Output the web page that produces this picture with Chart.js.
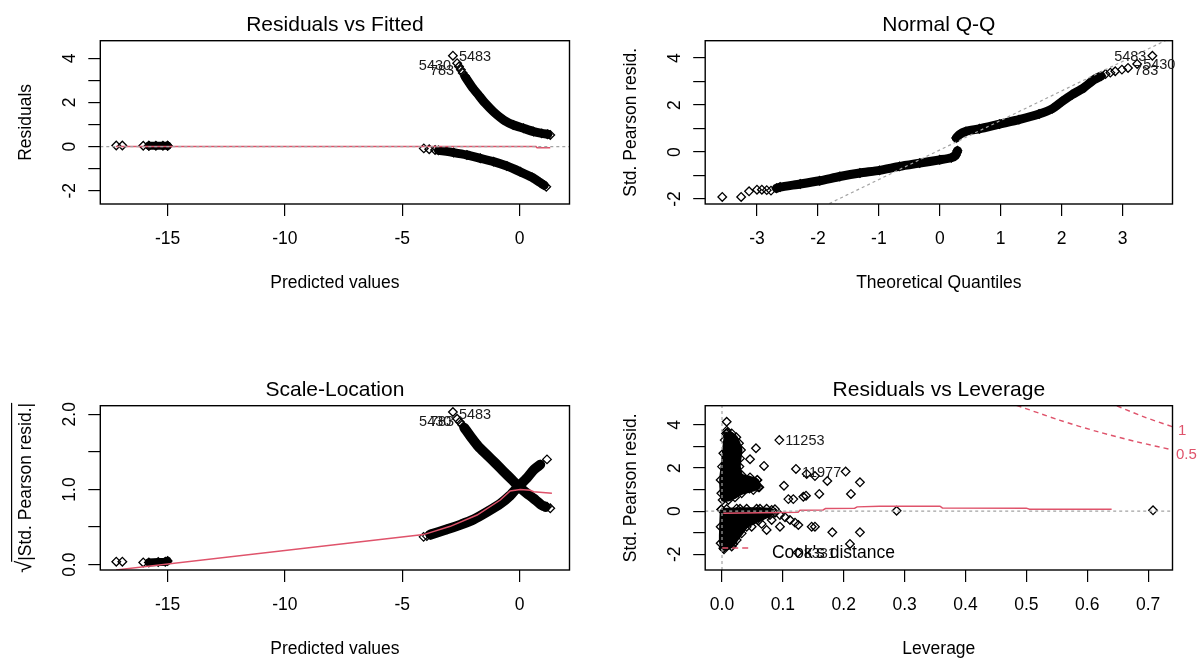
<!DOCTYPE html>
<html>
<head>
<meta charset="utf-8">
<script src="https://cdn.jsdelivr.net/npm/chart.js@4.4.1/dist/chart.umd.min.js"></script>
<style>
  html, body { margin: 0; padding: 0; background: #fff; width: 1203px; height: 660px; overflow: hidden; }
  canvas { position: absolute; }
</style>
</head>
<body>
<canvas id="c1" width="601" height="330" style="left:0;top:0"></canvas>
<canvas id="c2" width="602" height="330" style="left:601px;top:0"></canvas>
<canvas id="c3" width="601" height="330" style="left:0;top:330px"></canvas>
<canvas id="c4" width="602" height="330" style="left:601px;top:330px"></canvas>
<script>
// ---- data: [x, y] pairs ----

// Residuals vs Fitted
const rvfLeftPts = [[-17.19, 0.05], [-16.93, 0.05], [-16.04, 0.04], [-15.8, 0.04], [-15.0, 0.04]];
const rvfLeftBand = [[-15.8, 0.04], [-15.5, 0.04], [-15.2, 0.04], [-15.0, 0.04]];
const rvfUpperPts = [[-2.84, 4.12], [-2.66, 3.78], [-2.58, 3.63], [-2.5, 3.48], [-2.42, 3.34], [-2.33, 3.2], [1.31, 0.53]];
const rvfUpperBand = [[-2.3, 3.13], [-2.03, 2.71], [-1.75, 2.34], [-1.46, 1.96], [-1.11, 1.58], [-0.68, 1.21],
  [-0.26, 0.98], [0.17, 0.83], [0.6, 0.68], [0.95, 0.6], [1.2, 0.56]];
const rvfLowerPts = [[-4.08, -0.08], [-3.85, -0.12], [-3.6, -0.15], [1.14, -1.82]];
const rvfLowerBand = [[-3.45, -0.17], [-2.81, -0.27], [-2.24, -0.38], [-1.67, -0.53], [-1.11, -0.68],
  [-0.54, -0.88], [0.03, -1.14], [0.53, -1.39], [0.88, -1.63], [1.05, -1.75]];
const rvfSmooth = [[-17.2, 0], [0.7, 0], [0.75, -0.05], [1.31, -0.05]];
const rvfZero = [[-17.87, 0], [2.13, 0]];
const rvfLabels = [['5483', -2.84, 4.1, 'r'], ['5430', -2.66, 3.7, 'l'], ['783', -2.53, 3.47, 'l']];

// Normal Q-Q
const qqLowPts = [[-3.57, -1.91], [-3.26, -1.91], [-3.13, -1.67], [-3.0, -1.6], [-2.92, -1.6], [-2.84, -1.62], [-2.77, -1.64]];
const qqLowBand = [[-2.68, -1.54], [-2.62, -1.49], [-2.29, -1.36], [-1.97, -1.22], [-1.64, -1.04], [-1.31, -0.89],
  [-0.99, -0.78], [-0.66, -0.61], [-0.33, -0.47], [0.0, -0.33], [0.19, -0.24], [0.26, -0.14], [0.28, -0.02], [0.29, 0.06]];
const qqUpBand = [[0.27, 0.6], [0.32, 0.74], [0.43, 0.88], [0.65, 0.99], [0.98, 1.19], [1.3, 1.38], [1.63, 1.62],
  [1.85, 1.85], [2.01, 2.16], [2.17, 2.44], [2.36, 2.73], [2.53, 3.08], [2.65, 3.24]];
const qqUpPts = [[2.72, 3.32], [2.8, 3.38], [2.88, 3.44], [2.99, 3.51], [3.09, 3.58], [3.24, 3.75], [3.49, 4.1]];
const qqLine = [[-3.85, -4.75], [3.82, 4.89]];
const qqLabels = [['5483', 3.49, 4.1, 'l'], ['5430', 3.24, 3.74, 'r'], ['783', 3.09, 3.5, 'r']];

// Scale-Location
const slLeftPts = [[-17.19, 0.04], [-16.93, 0.04], [-16.04, 0.03]];
const slLeftBand = [[-15.8, 0.03], [-15.4, 0.035], [-15.1, 0.04], [-15.0, 0.05]];
const slDownPts = [[-2.84, 2.03], [-2.66, 1.94], [-2.55, 1.9], [-2.45, 1.86], [1.17, 0.77], [1.31, 0.75]];
const slDownBand = [[-2.35, 1.82], [-2.03, 1.68], [-1.75, 1.57], [-1.39, 1.46], [-1.03, 1.35], [-0.68, 1.24],
  [-0.32, 1.13], [-0.04, 1.04], [0.31, 0.95], [0.6, 0.88], [0.95, 0.79], [1.1, 0.77]];
const slUpPts = [[-4.09, 0.37], [-3.95, 0.38], [1.17, 1.4]];
const slUpBand = [[-3.8, 0.4], [-3.09, 0.47], [-2.53, 0.53], [-1.96, 0.6], [-1.39, 0.7], [-0.82, 0.81],
  [-0.4, 0.92], [-0.11, 1.02], [0.31, 1.15], [0.6, 1.26], [0.88, 1.33]];
const slSmooth = [[-17.2, -0.07], [-4.09, 0.4], [-2.95, 0.51], [-1.81, 0.66], [-0.82, 0.86], [-0.4, 0.98],
  [0.03, 1.0], [0.46, 0.99], [0.6, 0.97], [1.38, 0.95]];
const slLabels = [['5483', -2.84, 2.01, 'r'], ['5430', -2.65, 1.915, 'l'], ['783', -2.53, 1.915, 'l']];

// Residuals vs Leverage
const lvUpperBlob = [[0.0088, 3.64], [0.0159, 3.61], [0.0235, 3.43], [0.0279, 3.15], [0.0312, 2.84], [0.0296, 2.45],
  [0.0285, 2.07], [0.0323, 1.68], [0.046, 1.57], [0.058, 1.45], [0.0613, 1.11], [0.0515, 0.98], [0.0323, 0.83],
  [0.0213, 0.64], [0.0104, 0.52], [0.0011, 0.52], [-0.0011, 0.83], [-0.0022, 1.45], [0.0, 2.07], [0.0022, 2.69],
  [0.0044, 3.3], [0.0066, 3.61], [0.0088, 3.64]];
const lvLowerBlob = [[-0.0011, 0.08], [0.0296, 0.11], [0.0624, 0.11], [0.0816, 0.06], [0.0788, -0.18], [0.0597, -0.44],
  [0.0405, -0.72], [0.0323, -1.03], [0.0241, -1.34], [0.0159, -1.64], [0.0033, -1.77], [-0.0022, -1.49],
  [-0.0022, -0.72], [-0.0011, 0.08]];
const lvPts = [[0.0077, 4.15], [0.0077, 3.74], [0.0941, 3.3], [0.0558, 2.92], [0.046, 2.41], [0.069, 2.1],
  [0.1215, 1.96], [0.1391, 1.73], [0.1527, 1.63], [0.173, 1.4], [0.2031, 1.84], [0.2266, 1.34], [0.1018, 1.18],
  [0.2118, 0.8], [0.1598, 0.8], [0.109, 0.56], [0.1171, 0.56], [0.1336, 0.67], [0.138, 0.72], [0.058, 1.45],
  [0.0597, 1.11], [0.04, 1.2], [0.045, 1.05],
  [0.0077, 0.1], [0.0241, 0.12], [0.0405, 0.11], [0.0569, 0.11], [0.0733, 0.11], [0.087, 0.09], [0.087, -0.07],
  [0.0952, -0.18], [0.1035, -0.28], [0.1117, -0.41], [0.1199, -0.53], [0.1254, -0.64], [0.0733, -0.87],
  [0.0952, -0.72], [0.0816, -0.41], [0.0651, -0.59], [0.0487, -0.72], [0.1473, -0.72], [0.1527, -0.72],
  [0.1812, -0.98], [0.2266, -0.98], [0.2102, -1.52], [0.1243, -1.92], [0.0186, -1.52], [0.0022, -1.72],
  [0.2868, 0.02], [0.708, 0.04]];
const lvSmooth = [[0.002, -0.1], [0.125, -0.05], [0.128, 0.04], [0.166, 0.06], [0.17, 0.12], [0.218, 0.14],
  [0.222, 0.2], [0.259, 0.23], [0.358, 0.23], [0.362, 0.15], [0.5, 0.14], [0.505, 0.09], [0.64, 0.09]];
const lvH = [[-0.0276, 0], [0.74, 0]];
const lvV = [[0, -2.73], [0, 4.896]];
const cook05 = [[0.47, 5.05], [0.554, 4.23], [0.617, 3.69], [0.68, 3.23], [0.742, 2.83]];
const cook1 = [[0.635, 5.05], [0.692, 4.39], [0.742, 3.9]];
const lvLabels = [['11253', 0.0941, 3.3, 'r'], ['11977', 0.1215, 1.85, 'r'], ['8331', 0.1243, -1.93, 'r']];

// ticks and tick labels
const fitXTicks = [-15, -10, -5, 0];
const fitXText = ['-15', '-10', '-5', '0'];
const residYTicks = [-2, -1, 0, 1, 2, 3, 4];
const residYLab = [-2, 0, 2, 4];
const residYText = ['-2', '0', '2', '4'];
const qqXTicks = [-3, -2, -1, 0, 1, 2, 3];
const qqXText = ['-3', '-2', '-1', '0', '1', '2', '3'];
const slYTicks = [0, 0.5, 1, 1.5, 2];
const slYLab = [0, 1, 2];
const slYText = ['0.0', '1.0', '2.0'];
const lvXTicks = [0, 0.1, 0.2, 0.3, 0.4, 0.5, 0.6, 0.7];
const lvXText = ['0.0', '0.1', '0.2', '0.3', '0.4', '0.5', '0.6', '0.7'];

const RED = '#DF536B';
const GREY = '#a3a3a3';
const FONT = '"Liberation Sans", Arial, sans-serif';

function xy(arr) { return arr.map(p => ({ x: p[0], y: p[1] })); }

const diamond = {
  pointStyle: 'rectRot', pointRadius: 4.3, pointBorderWidth: 1.3,
  pointBorderColor: '#000', pointBackgroundColor: 'rgba(0,0,0,0)'
};
function marks(arr) {
  return Object.assign({ data: xy(arr), showLine: false, order: 5 }, diamond);
}
function band(arr, w) {
  return Object.assign({ data: xy(arr), showLine: true, borderColor: '#000', borderWidth: w,
    borderCapStyle: 'round', borderJoinStyle: 'round', tension: 0.2, order: 5 }, diamond);
}
function blob(arr) {
  return Object.assign({ data: xy(arr), showLine: true, fill: 'shape', backgroundColor: '#000',
    borderColor: '#000', borderWidth: 3, borderJoinStyle: 'round', tension: 0.25, order: 5 }, diamond);
}
function path(arr, color, w, dash, order, tension) {
  return { data: xy(arr), showLine: true, borderColor: color, borderWidth: w, borderDash: dash,
    pointRadius: 0, fill: false, tension: tension || 0, order: order, clip: 0 };
}

// draw text centred on (cx, cy), optionally rotated
function label(ctx, str, cx, cy, size, rot) {
  ctx.save();
  ctx.translate(cx, cy);
  if (rot) ctx.rotate(rot);
  ctx.font = size + 'px ' + FONT;
  ctx.textAlign = 'center';
  ctx.textBaseline = 'alphabetic';
  ctx.fillText(str, 0, 0.36 * size);
  ctx.restore();
}

// R-style frame, titles and tick labels drawn from the chart scales
function decor(cfg) {
  return {
    id: 'decor',
    afterDraw(chart) {
      const ctx = chart.ctx, a = chart.chartArea, xs = chart.scales.x, ys = chart.scales.y;
      ctx.save();
      ctx.strokeStyle = '#000';
      ctx.lineWidth = 1.4;
      ctx.strokeRect(a.left, a.top, a.right - a.left, a.bottom - a.top);
      ctx.fillStyle = '#000';
      label(ctx, cfg.title, (a.left + a.right) / 2, a.top - 17, 21, 0);
      cfg.xLab.forEach((v, i) => label(ctx, cfg.xText[i], xs.getPixelForValue(v), a.bottom + 34, 17.5, 0));
      cfg.yLab.forEach((v, i) => label(ctx, cfg.yText[i], a.left - 32, ys.getPixelForValue(v), 17.5, -Math.PI / 2));
      label(ctx, cfg.xTitle, (a.left + a.right) / 2, a.bottom + 78, 17.5, 0);
      if (cfg.yTitle) label(ctx, cfg.yTitle, a.left - 75.5, (a.top + a.bottom) / 2, 17.5, -Math.PI / 2);

      ctx.font = '14.5px ' + FONT;
      ctx.fillStyle = '#1a1a1a';
      ctx.textBaseline = 'alphabetic';
      cfg.labels.forEach(p => {
        const px = xs.getPixelForValue(p[1]), py = ys.getPixelForValue(p[2]);
        ctx.textAlign = p[3] === 'r' ? 'left' : 'right';
        ctx.fillText(p[0], p[3] === 'r' ? px + 6 : px - 6, py + 5.2);
      });
      if (cfg.extra) cfg.extra(ctx, a, xs, ys);
      ctx.restore();
    }
  };
}

function makePanel(cfg) {
  const canvas = document.getElementById(cfg.id);
  const W = canvas.width, H = canvas.height, box = cfg.box;
  const axisGrid = { display: true, drawOnChartArea: false, drawTicks: true, tickLength: 12, color: '#000', lineWidth: 1.2 };
  new Chart(canvas, {
    type: 'scatter',
    data: { datasets: cfg.datasets },
    options: {
      responsive: false,
      animation: false,
      events: [],
      layout: { padding: { left: 0, top: box.t, right: W - box.r, bottom: 0 } },
      plugins: { legend: { display: false }, tooltip: { enabled: false }, title: { display: false } },
      scales: {
        x: {
          type: 'linear', position: 'bottom', min: cfg.xRange[0], max: cfg.xRange[1], bounds: 'data',
          afterBuildTicks: s => { s.ticks = cfg.xTicks.map(v => ({ value: v })); },
          afterFit: s => { s.height = H - box.b; },
          ticks: { display: false }, grid: axisGrid, border: { display: false }
        },
        y: {
          type: 'linear', position: 'left', min: cfg.yRange[0], max: cfg.yRange[1], bounds: 'data',
          afterBuildTicks: s => { s.ticks = cfg.yTicks.map(v => ({ value: v })); },
          afterFit: s => { s.width = box.l; },
          ticks: { display: false }, grid: axisGrid, border: { display: false }
        }
      }
    },
    plugins: [decor(cfg)]
  });
}

// 1. Residuals vs Fitted
makePanel({
  id: 'c1', box: { l: 100.3, t: 40.7, r: 569.5, b: 204 },
  xRange: [-17.87, 2.13], yRange: [-2.6, 4.8],
  xTicks: fitXTicks, xLab: fitXTicks, xText: fitXText,
  yTicks: residYTicks, yLab: residYLab, yText: residYText,
  title: 'Residuals vs Fitted', xTitle: 'Predicted values', yTitle: 'Residuals',
  labels: rvfLabels,
  datasets: [
    path(rvfZero, GREY, 1.2, [3, 3], 1),
    path(rvfSmooth, RED, 1.5, [], 2),
    band(rvfLeftBand, 8), marks(rvfLeftPts),
    band(rvfUpperBand, 9), marks(rvfUpperPts),
    band(rvfLowerBand, 9), marks(rvfLowerPts)
  ]
});

// 2. Normal Q-Q
makePanel({
  id: 'c2', box: { l: 104.2, t: 40.7, r: 571.5, b: 204 },
  xRange: [-3.85, 3.82], yRange: [-2.21, 4.74],
  xTicks: qqXTicks, xLab: qqXTicks, xText: qqXText,
  yTicks: residYTicks, yLab: residYLab, yText: residYText,
  title: 'Normal Q-Q', xTitle: 'Theoretical Quantiles', yTitle: 'Std. Pearson resid.',
  labels: qqLabels,
  datasets: [
    path(qqLine, GREY, 1.2, [3, 3], 1),
    band(qqLowBand, 9), marks(qqLowPts),
    band(qqUpBand, 9), marks(qqUpPts)
  ]
});

// 3. Scale-Location
makePanel({
  id: 'c3', box: { l: 100.3, t: 75.7, r: 569.5, b: 240 },
  xRange: [-17.87, 2.13], yRange: [-0.0705, 2.114],
  xTicks: fitXTicks, xLab: fitXTicks, xText: fitXText,
  yTicks: slYTicks, yLab: slYLab, yText: slYText,
  title: 'Scale-Location', xTitle: 'Predicted values', yTitle: null,
  labels: slLabels,
  extra: (ctx, a) => {
    // sqrt(|Std. Pearson resid.|) axis title
    ctx.save();
    ctx.translate(a.left - 75.5, (a.top + a.bottom) / 2);
    ctx.rotate(-Math.PI / 2);
    ctx.fillStyle = '#000';
    ctx.strokeStyle = '#000';
    ctx.textBaseline = 'alphabetic';
    ctx.textAlign = 'left';
    const s = 17.5, base = 0.36 * s;
    const body = '|Std. Pearson resid.|';
    ctx.font = '22px ' + FONT;
    const w1 = ctx.measureText('√').width;
    ctx.font = s + 'px ' + FONT;
    const w2 = ctx.measureText(body).width;
    const x0 = -(w1 + w2) / 2;
    ctx.font = '22px ' + FONT;
    ctx.fillText('√', x0, base);
    ctx.font = s + 'px ' + FONT;
    ctx.fillText(body, x0 + w1, base);
    ctx.lineWidth = 1.2;
    ctx.beginPath();
    ctx.moveTo(x0 + w1 - 1, base - 19.5);
    ctx.lineTo(x0 + w1 + w2, base - 19.5);
    ctx.stroke();
    ctx.restore();
  },
  datasets: [
    path(slSmooth, RED, 1.5, [], 1),
    band(slLeftBand, 8), marks(slLeftPts),
    band(slDownBand, 10), marks(slDownPts),
    band(slUpBand, 10), marks(slUpPts)
  ]
});

// 4. Residuals vs Leverage
makePanel({
  id: 'c4', box: { l: 104.2, t: 75.7, r: 571.5, b: 240 },
  xRange: [-0.0276, 0.74], yRange: [-2.73, 4.896],
  xTicks: lvXTicks, xLab: lvXTicks, xText: lvXText,
  yTicks: residYTicks, yLab: residYLab, yText: residYText,
  title: 'Residuals vs Leverage', xTitle: 'Leverage', yTitle: 'Std. Pearson resid.',
  labels: lvLabels,
  extra: (ctx, a, xs, ys) => {
    // Cook's distance contour labels
    ctx.fillStyle = RED;
    ctx.font = '15px ' + FONT;
    ctx.textAlign = 'left';
    ctx.fillText('1', a.right + 5.5, ys.getPixelForValue(cook1[cook1.length - 1][1]) + 2 + 5.4);
    ctx.fillText('0.5', a.right + 3.5, ys.getPixelForValue(cook05[cook05.length - 1][1]) + 3 + 5.4);
    // legend
    ctx.strokeStyle = RED;
    ctx.lineWidth = 1.5;
    ctx.setLineDash([6, 4]);
    ctx.beginPath();
    ctx.moveTo(a.left + 17, a.bottom - 22);
    ctx.lineTo(a.left + 45, a.bottom - 22);
    ctx.stroke();
    ctx.setLineDash([]);
    ctx.fillStyle = '#000';
    ctx.font = '17.5px ' + FONT;
    ctx.fillText("Cook's distance", a.left + 66.7, a.bottom - 18.3 + 6.3);
  },
  datasets: [
    path(cook05, RED, 1.4, [5, 4], 1, 0.3),
    path(cook1, RED, 1.4, [5, 4], 1, 0.3),
    path(lvH, GREY, 1.2, [3, 3], 2),
    path(lvV, GREY, 1.2, [3, 3], 2),
    path(lvSmooth, RED, 1.5, [], 3),
    blob(lvUpperBlob), blob(lvLowerBlob), marks(lvPts)
  ]
});
</script>
</body>
</html>
